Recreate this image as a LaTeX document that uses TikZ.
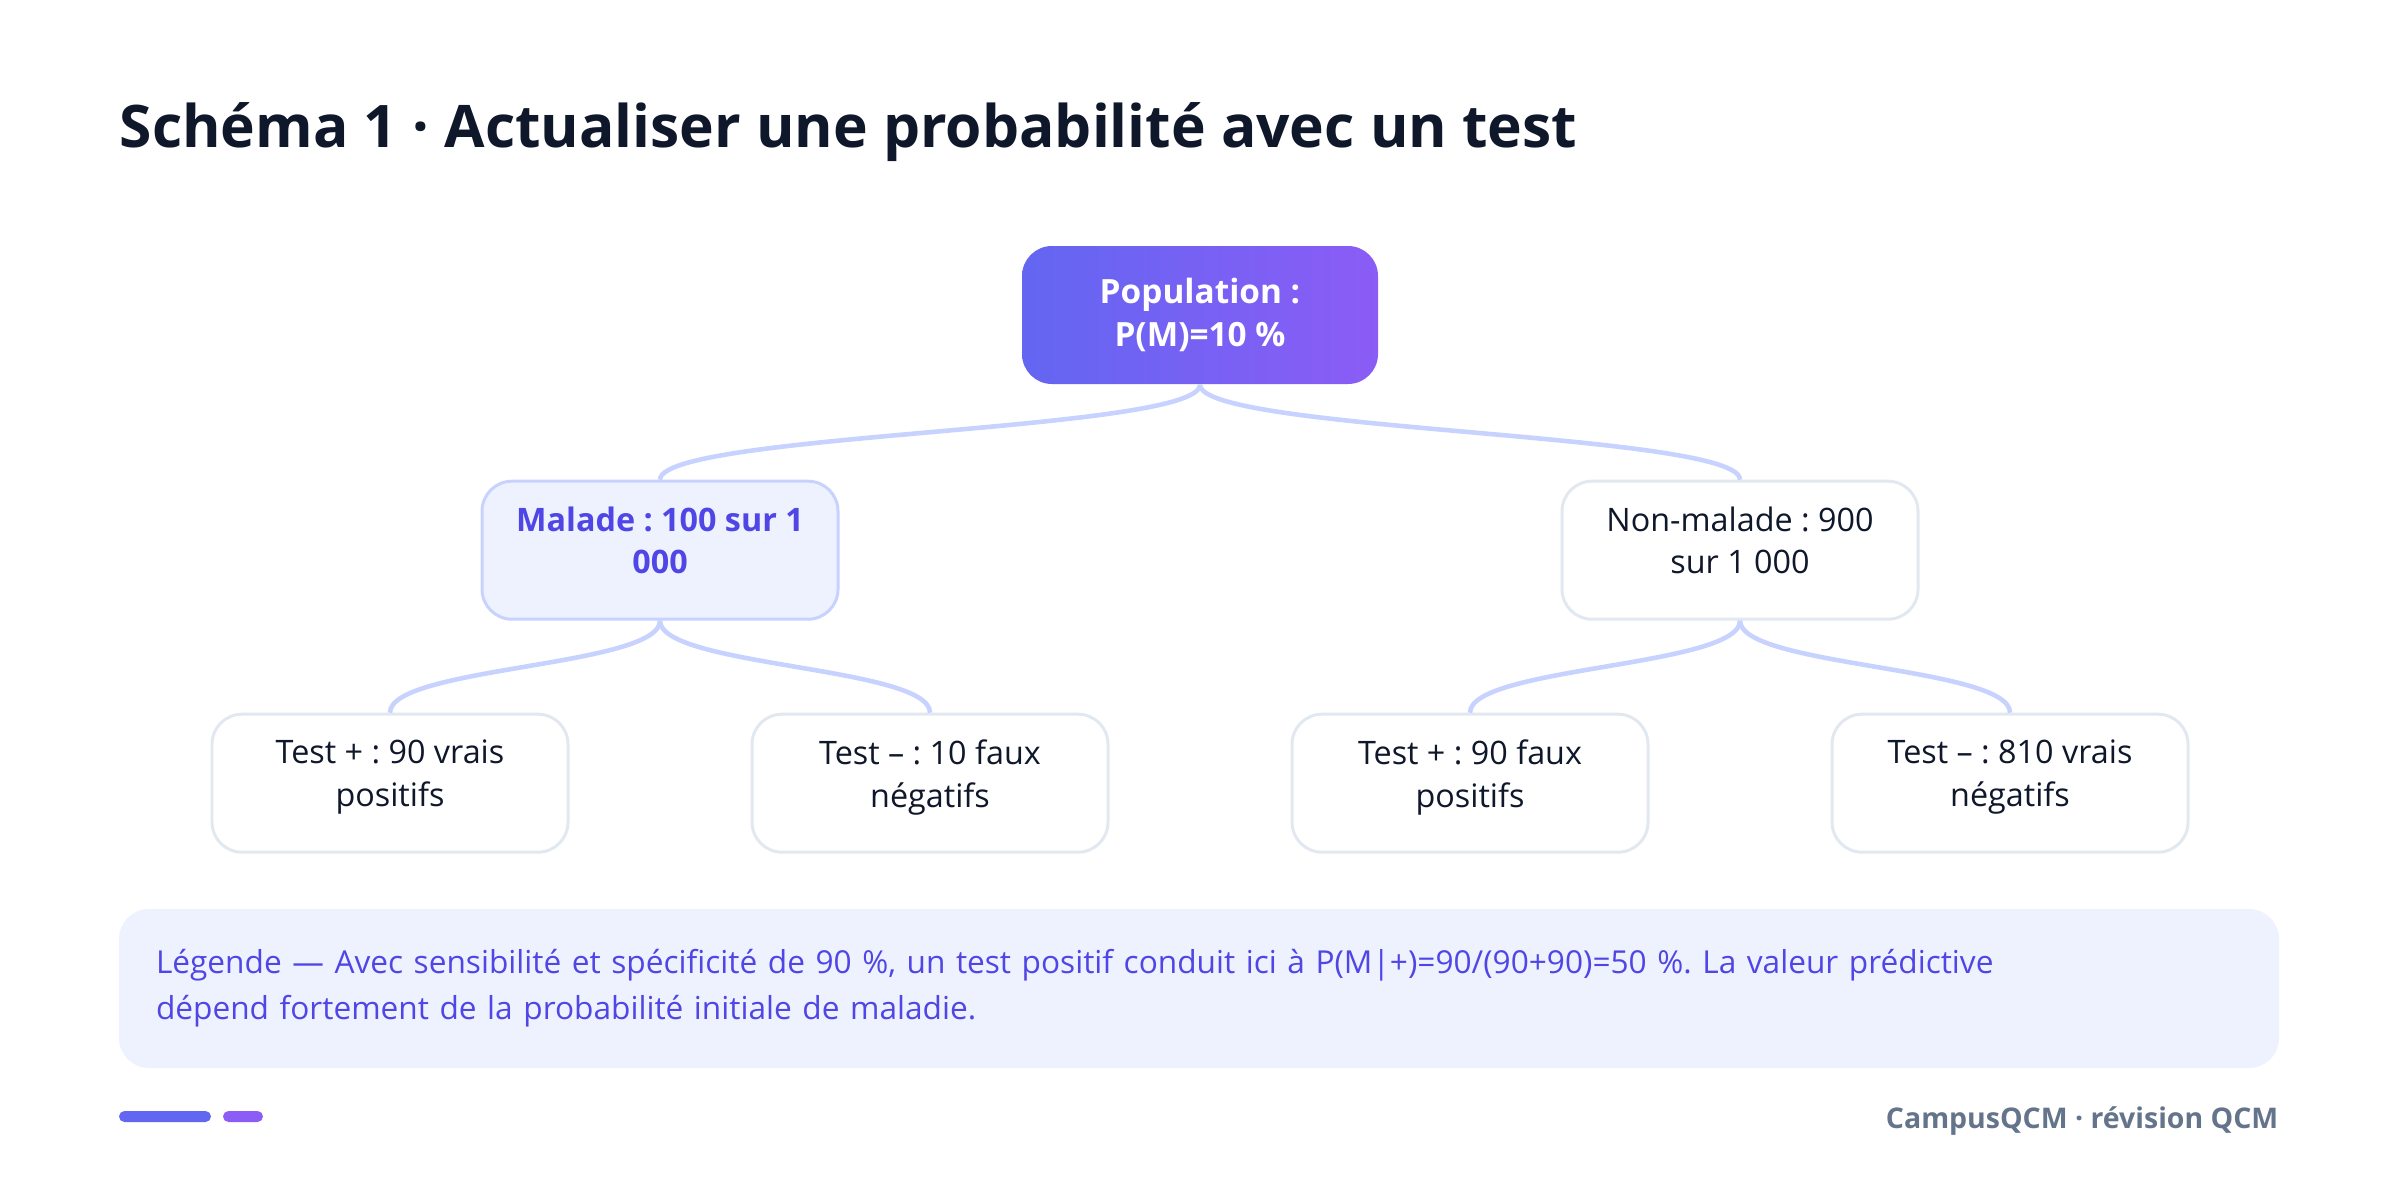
\documentclass[tikz,border=0pt]{standalone}
\usepackage{fontspec}
\setmainfont{Open Sans}
\usetikzlibrary{positioning}
\frenchspacing

\definecolor{ink}{HTML}{0F172A}
\definecolor{indA}{HTML}{6366F1}
\definecolor{violA}{HTML}{8B5CF6}
\definecolor{lineind}{HTML}{C7D2FE}
\definecolor{paleind}{HTML}{EEF2FF}
\definecolor{deepind}{HTML}{4F46E5}
\definecolor{edgegrey}{HTML}{E2E8F0}
\definecolor{slate}{HTML}{64748B}

\begin{document}
\begin{tikzpicture}[
        root/.style={rectangle, rounded corners=0.3cm, minimum width=3.56cm, minimum height=1.38cm, align=center, text=white, font=\fontsize{9.5}{12.2}\selectfont\bfseries, left color=indA, right color=violA},
        sick/.style={rectangle, draw=lineind, line width=0.85pt, rounded corners=0.3cm, minimum width=3.56cm, minimum height=1.38cm, align=center, text depth=0.2cm, fill=paleind, text=deepind, font=\fontsize{9.2}{12.2}\selectfont\bfseries},
        leaf/.style={rectangle, draw=edgegrey, line width=0.85pt, rounded corners=0.3cm, minimum width=3.56cm, minimum height=1.38cm, align=center, text depth=0.2cm, fill=white, text=ink, font=\fontsize{9.2}{12.2}\selectfont},
        link/.style={draw=lineind, line width=1.3pt},
        node distance=0.95cm
    ]
    \useasboundingbox[fill=white] (0,0) rectangle (24,-11.78);

    % Title
    \node[anchor=base west, inner sep=0, text=ink, font=\fontsize{16.7}{20}\selectfont\bfseries] (title) at (1.19,-1.48) {Schéma 1 · Actualiser une probabilité avec un test};

    % Population node
    \node[root] (pop) at (12,-3.15) {Population :\\P(M)=10 \%};

    % First split
    \node[sick, below=0.95cm of pop, xshift=-5.4cm] (sick) {Malade : 100 sur 1\\000};
    \node[leaf, below=0.95cm of pop, xshift=5.4cm] (healthy) {Non-malade : 900\\sur 1 000};

    % Test results
    \node[leaf, below=0.92cm of sick, xshift=-2.7cm] (tp) {Test + : 90 vrais\\positifs};
    \node[leaf, below=0.92cm of sick, xshift=2.7cm] (fn) {Test – : 10 faux\\négatifs};
    \node[leaf, below=0.92cm of healthy, xshift=-2.7cm] (fp) {Test + : 90 faux\\positifs};
    \node[leaf, below=0.92cm of healthy, xshift=2.7cm] (tn) {Test – : 810 vrais\\négatifs};

    % Branches
    \draw[link] (pop.south) .. controls +(0,-0.47) and +(0,0.47) .. (sick.north);
    \draw[link] (pop.south) .. controls +(0,-0.47) and +(0,0.47) .. (healthy.north);
    \draw[link] (sick.south) .. controls +(0,-0.46) and +(0,0.46) .. (tp.north);
    \draw[link] (sick.south) .. controls +(0,-0.46) and +(0,0.46) .. (fn.north);
    \draw[link] (healthy.south) .. controls +(0,-0.46) and +(0,0.46) .. (fp.north);
    \draw[link] (healthy.south) .. controls +(0,-0.46) and +(0,0.46) .. (tn.north);

    % Legend
    \node[rectangle, rounded corners=0.3cm, fill=paleind, minimum width=21.6cm, minimum height=1.59cm, inner xsep=0.37cm, text width=20.86cm, align=left, text=deepind, font=\fontsize{9}{13}\selectfont] (legend) at (11.99,-9.885) {Légende — Avec sensibilité et spécificité de 90 \%, un test positif conduit ici à P(M|+)=90/(90+90)=50 \%. La valeur prédictive\\dépend fortement de la probabilité initiale de maladie.};

    % Footer
    \fill[indA, rounded corners=0.055cm] (1.19,-11.11) rectangle (2.11,-11.22);
    \fill[violA, rounded corners=0.055cm] (2.23,-11.11) rectangle (2.63,-11.22);
    \node[anchor=base east, inner sep=0, text=slate, font=\fontsize{8.1}{10}\selectfont\bfseries] (brand) at (22.79,-11.28) {CampusQCM · révision QCM};

\end{tikzpicture}
\end{document}
